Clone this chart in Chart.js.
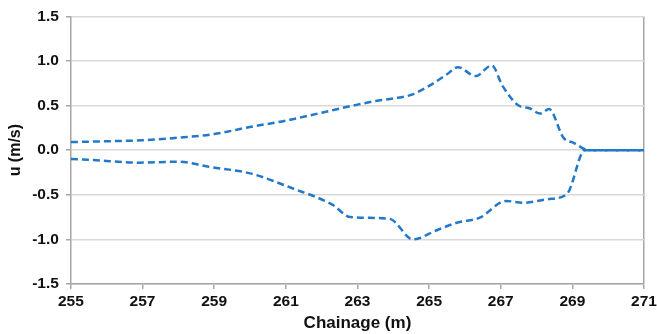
<!DOCTYPE html>
<html>
<head>
<meta charset="utf-8">
<script src="https://cdn.jsdelivr.net/npm/chart.js@4/dist/chart.umd.min.js"></script>
<style>
  html, body { margin: 0; padding: 0; background: #fff; }
  #wrap { width: 657px; height: 334px; }
</style>
</head>
<body>
<div id="wrap"><canvas id="myChart"></canvas></div>
<script>
// chainage (m) and velocity u (m/s)
const upperX = [255, 256, 257, 258, 259, 260, 261, 262, 263, 263.5, 264, 264.5, 265, 265.5, 265.8, 266.3, 266.75, 267.05, 267.5, 267.8, 268.1, 268.35, 268.75, 269.05, 269.45, 270, 271];
const upperY = [0.09, 0.10, 0.11, 0.14, 0.18, 0.26, 0.33, 0.42, 0.51, 0.55, 0.58, 0.62, 0.72, 0.85, 0.93, 0.83, 0.95, 0.72, 0.50, 0.47, 0.41, 0.46, 0.14, 0.08, 0.00, 0.00, 0.00];

const lowerX = [255, 255.6, 256.9, 258, 258.9, 260, 261.2, 262.3, 262.8, 263.9, 264.55, 265.2, 265.8, 266.4, 267.15, 267.65, 268.3, 268.85, 269.35, 270, 271];
const lowerY = [-0.10, -0.11, -0.14, -0.13, -0.19, -0.26, -0.43, -0.61, -0.75, -0.77, -1.00, -0.90, -0.81, -0.76, -0.57, -0.59, -0.55, -0.49, 0.00, 0.00, 0.00];

const xTicks = [255, 257, 259, 261, 263, 265, 267, 269, 271];
const yTicks = [-1.5, -1.0, -0.5, 0.0, 0.5, 1.0, 1.5];

const lineColor = "#2278c9";
const axisColor = "#a6a6a6";

function toPoints(xs, ys) {
  return xs.map((x, i) => ({ x: x, y: ys[i] }));
}

function lineSet(xs, ys) {
  return {
    data: toPoints(xs, ys),
    borderColor: lineColor,
    borderWidth: 2.5,
    borderDash: [7, 4],
    pointRadius: 0,
    fill: false,
    cubicInterpolationMode: "monotone",
  };
}

const font = { family: "'Liberation Sans', Arial, sans-serif", weight: "bold", size: 15.5 };

new Chart(document.querySelector("#myChart").getContext("2d"), {
  type: "line",
  data: {
    datasets: [lineSet(upperX, upperY), lineSet(lowerX, lowerY)],
  },
  options: {
    responsive: true,
    maintainAspectRatio: false,
    animation: false,
    layout: { padding: { top: 16, right: 13, left: 6, bottom: 0 } },
    plugins: { legend: { display: false }, tooltip: { enabled: false } },
    scales: {
      x: {
        type: "linear",
        min: xTicks[0],
        max: xTicks[xTicks.length - 1],
        afterBuildTicks: (axis) => { axis.ticks = xTicks.map((v) => ({ value: v })); },
        afterFit: (axis) => { axis.paddingRight = 0; axis.paddingLeft = 0; },
        ticks: { color: "#111", font: font, padding: 3, maxRotation: 0 },
        grid: {
          color: (ctx) => (ctx.index === xTicks.length - 1 ? axisColor : "transparent"),
          lineWidth: 1.5,
          tickColor: axisColor,
          tickLength: 5,
        },
        border: { color: axisColor, width: 1.5 },
        title: { display: true, text: "Chainage (m)", color: "#111", font: { ...font, size: 17 }, padding: { top: 0, bottom: 0 } },
      },
      y: {
        min: yTicks[0],
        max: yTicks[yTicks.length - 1],
        afterBuildTicks: (axis) => { axis.ticks = yTicks.map((v) => ({ value: v })); },
        ticks: { color: "#111", font: font, padding: 7, callback: (v) => v.toFixed(1) },
        grid: { color: "#d9d9d9", lineWidth: 1.5, tickColor: axisColor, tickLength: 5 },
        border: { color: axisColor, width: 1.5 },
        title: { display: true, text: "u (m/s)", color: "#111", font: { ...font, size: 16 }, padding: { top: 0, bottom: 0 } },
      },
    },
  },
});
</script>
</body>
</html>
